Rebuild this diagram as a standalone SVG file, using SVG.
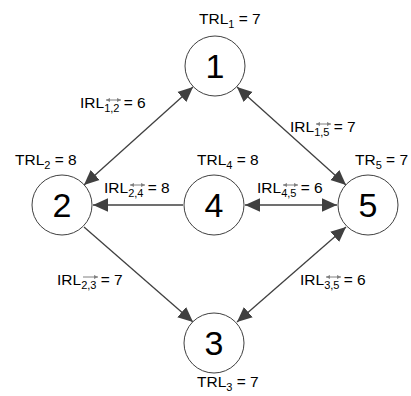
<svg xmlns="http://www.w3.org/2000/svg" width="411" height="396" viewBox="0 0 411 396">
<defs>
<marker id="ah" viewBox="0 0 10 10" refX="10" refY="5" markerWidth="15" markerHeight="15" markerUnits="userSpaceOnUse" orient="auto-start-reverse">
<path d="M0,0.5 L10,5 L0,9.5 Z" fill="#404040"/>
</marker>
<marker id="sa" viewBox="0 0 10 10" refX="10" refY="5" markerWidth="4" markerHeight="4" markerUnits="userSpaceOnUse" orient="auto-start-reverse">
<path d="M0,0 L10,5 L0,10 Z" fill="#808080"/>
</marker>
</defs>
<style>
.node circle{fill:#fff;stroke:#404040;stroke-width:1}
.num{font-family:"Liberation Sans",Arial,sans-serif;font-size:34px;fill:#000;text-anchor:middle}
.lbl{font-family:"Liberation Sans",Arial,sans-serif;font-size:15.5px;fill:#000}
.sub{font-size:11px}
.edge{stroke:#404040;stroke-width:1.3;fill:none}
.sarr{stroke:#808080;stroke-width:1;fill:none}
</style>
<rect width="411" height="396" fill="#fff"/>
<g id="connectors">
<line class="edge" x1="193" y1="87" x2="84" y2="185" marker-start="url(#ah)" marker-end="url(#ah)"/>
<line class="edge" x1="237" y1="87" x2="346" y2="185" marker-start="url(#ah)" marker-end="url(#ah)"/>
<line class="edge" x1="183" y1="205" x2="93" y2="205" marker-end="url(#ah)"/>
<line class="edge" x1="245" y1="205" x2="337" y2="205" marker-start="url(#ah)" marker-end="url(#ah)"/>
<line class="edge" x1="84" y1="227" x2="193" y2="322" marker-end="url(#ah)"/>
<line class="edge" x1="237" y1="322" x2="346" y2="227" marker-start="url(#ah)" marker-end="url(#ah)"/>
</g>
<g id="node1" class="node"><circle cx="215" cy="66" r="30"/><text class="num" x="215" y="78">1</text><text class="lbl" x="199" y="24">TRL<tspan class="sub" dy="4">1</tspan><tspan dy="-4"> = 7</tspan></text></g>
<g id="node2" class="node"><circle cx="62" cy="205" r="30"/><text class="num" x="62" y="217">2</text><text class="lbl" x="15" y="165">TRL<tspan class="sub" dy="4">2</tspan><tspan dy="-4"> = 8</tspan></text></g>
<g id="node4" class="node"><circle cx="214" cy="205" r="30"/><text class="num" x="214" y="217">4</text><text class="lbl" x="197" y="165">TRL<tspan class="sub" dy="4">4</tspan><tspan dy="-4"> = 8</tspan></text></g>
<g id="node5" class="node"><circle cx="368" cy="205" r="30"/><text class="num" x="368" y="217">5</text><text class="lbl" x="355" y="165">TR<tspan class="sub" dy="4">5</tspan><tspan dy="-4"> = 7</tspan></text></g>
<g id="node3" class="node"><circle cx="214" cy="343" r="30"/><text class="num" x="214" y="355">3</text><text class="lbl" x="197" y="387">TRL<tspan class="sub" dy="4">3</tspan><tspan dy="-4"> = 7</tspan></text></g>
<g id="labels">
<text class="lbl" x="80" y="108">IRL<tspan class="sub" dy="4">1,2</tspan><tspan dy="-4"> = 6</tspan></text>
<line class="sarr" x1="106" y1="100" x2="121" y2="100" marker-start="url(#sa)" marker-end="url(#sa)"/>
<text class="lbl" x="290" y="132">IRL<tspan class="sub" dy="4">1,5</tspan><tspan dy="-4"> = 7</tspan></text>
<line class="sarr" x1="316" y1="124" x2="331" y2="124" marker-start="url(#sa)" marker-end="url(#sa)"/>
<text class="lbl" x="104" y="193">IRL<tspan class="sub" dy="4">2,4</tspan><tspan dy="-4"> = 8</tspan></text>
<line class="sarr" x1="130" y1="185" x2="145" y2="185" marker-start="url(#sa)" marker-end="url(#sa)"/>
<text class="lbl" x="257" y="193">IRL<tspan class="sub" dy="4">4,5</tspan><tspan dy="-4"> = 6</tspan></text>
<line class="sarr" x1="283" y1="185" x2="298" y2="185" marker-start="url(#sa)" marker-end="url(#sa)"/>
<text class="lbl" x="57" y="285">IRL<tspan class="sub" dy="4">2,3</tspan><tspan dy="-4"> = 7</tspan></text>
<line class="sarr" x1="83" y1="277" x2="98" y2="277" marker-end="url(#sa)"/>
<text class="lbl" x="300" y="285">IRL<tspan class="sub" dy="4">3,5</tspan><tspan dy="-4"> = 6</tspan></text>
<line class="sarr" x1="326" y1="277" x2="341" y2="277" marker-start="url(#sa)" marker-end="url(#sa)"/>
</g>
</svg>
